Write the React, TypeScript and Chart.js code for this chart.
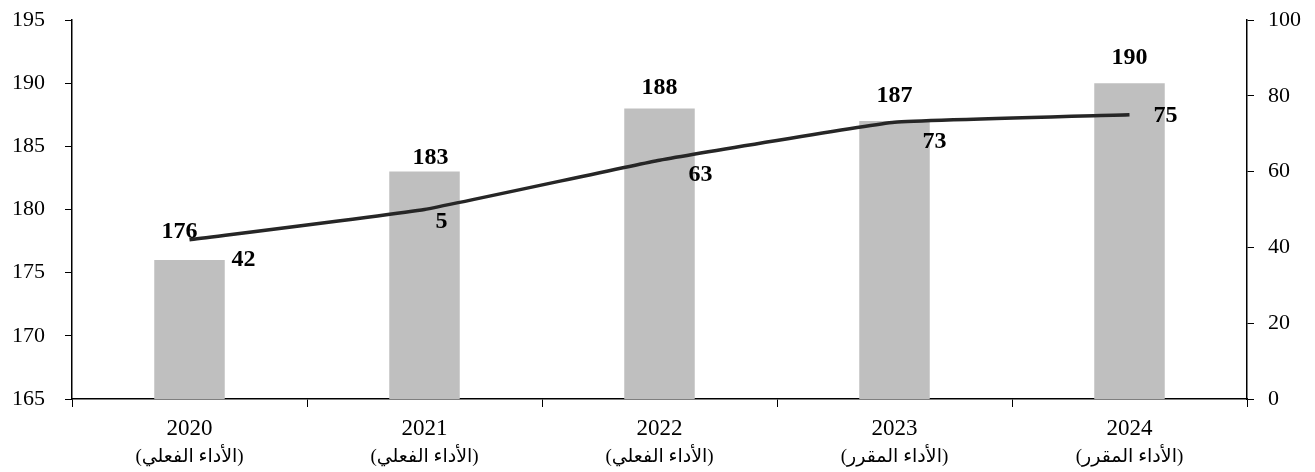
import React, { useEffect, useRef } from "react";
import { Chart, registerables } from "chart.js";

Chart.register(...registerables);

const years = ["2020", "2021", "2022", "2023", "2024"];
const subLabels = ["(الأداء الفعلي)", "(الأداء الفعلي)", "(الأداء الفعلي)", "(الأداء المقرر)", "(الأداء المقرر)"];
const barValues = [176, 183, 188, 187, 190];
const lineValues = [42, 50, 63, 73, 75];
const barLabels = ["176", "183", "188", "187", "190"];
const lineLabels = ["42", "5", "63", "73", "75"];

const leftTicks = { min: 165, max: 195, step: 5 };
const rightTicks = { min: 0, max: 100, step: 20 };

// label offsets (pixels) relative to the mark
const barLabelOffsets = [
  [-10, -28],
  [6, -14],
  [0, -21],
  [0, -25],
  [0, -25],
];
const lineLabelOffsets = [
  [54, 20],
  [17, 12],
  [41, 15],
  [40, 19],
  [36, 1],
];

const FONT = "'Liberation Serif', 'Times New Roman', 'DejaVu Serif', serif";
const AR_FONT = "'Liberation Serif', 'DejaVu Sans', serif";

const labelPlugin = {
  id: "valueLabels",
  afterDatasetsDraw(chart: any) {
    const ctx = chart.ctx;
    ctx.save();
    ctx.font = `bold 24px ${FONT}`;
    ctx.fillStyle = "#000";
    ctx.textAlign = "center";
    ctx.textBaseline = "middle";
    const barMeta = chart.getDatasetMeta(0);
    barMeta.data.forEach((el: any, i: number) => {
      const [dx, dy] = barLabelOffsets[i];
      ctx.fillText(barLabels[i], el.x + dx, el.y + dy);
    });
    const lineMeta = chart.getDatasetMeta(1);
    lineMeta.data.forEach((el: any, i: number) => {
      const [dx, dy] = lineLabelOffsets[i];
      ctx.fillText(lineLabels[i], el.x + dx, el.y + dy);
    });
    // second line of category labels (Arabic)
    const xs = chart.scales.x;
    ctx.font = `19px ${AR_FONT}`;
    subLabels.forEach((t, i) => {
      ctx.fillText(t, xs.getPixelForTick(i), xs.top + 58);
    });
    ctx.restore();
  },
};

export default function App() {
  const ref = useRef<HTMLCanvasElement | null>(null);

  useEffect(() => {
    if (!ref.current) return;
    const fitY = (w: number) => (s: any) => {
      s.width = w;
      s.paddingTop = 0;
      s.paddingBottom = 0;
    };
    const chart = new Chart(ref.current, {
      type: "bar",
      data: {
        labels: years,
        datasets: [
          {
            type: "bar",
            data: barValues,
            backgroundColor: "#bfbfbf",
            borderWidth: 0,
            barPercentage: 0.3,
            categoryPercentage: 1,
            yAxisID: "y",
            order: 1,
          },
          {
            type: "line",
            data: lineValues,
            borderColor: "#262626",
            borderWidth: 3.5,
            pointRadius: 0,
            tension: 0.1,
            fill: false,
            yAxisID: "y1",
            order: 0,
          } as any,
        ],
      },
      options: {
        animation: false,
        responsive: false,
        devicePixelRatio: 1,
        layout: { padding: { top: 20, left: 0, right: 0, bottom: 0 } },
        plugins: {
          legend: { display: false },
          tooltip: { enabled: false },
        },
        scales: {
          x: {
            grid: {
              display: true,
              drawOnChartArea: false,
              drawTicks: true,
              tickLength: 8,
              color: "#000",
              offset: true,
            },
            border: { display: true, color: "#000", width: 1.5 },
            ticks: {
              color: "#000",
              font: { family: FONT, size: 23, lineHeight: 1.2 },
              padding: 8,
              maxRotation: 0,
              autoSkip: false,
            },
            afterFit: (s: any) => {
              s.height = 73;
              s.paddingLeft = 0;
              s.paddingRight = 0;
            },
          },
          y: {
            position: "left",
            min: leftTicks.min,
            max: leftTicks.max,
            grid: {
              display: true,
              drawOnChartArea: false,
              drawTicks: true,
              tickLength: 7,
              color: "#000",
            },
            border: { display: true, color: "#000", width: 1.5 },
            ticks: {
              stepSize: leftTicks.step,
              color: "#000",
              font: { family: FONT, size: 22 },
              padding: 20,
            },
            afterFit: fitY(72),
          },
          y1: {
            position: "right",
            min: rightTicks.min,
            max: rightTicks.max,
            grid: {
              display: true,
              drawOnChartArea: false,
              drawTicks: true,
              tickLength: 7,
              color: "#000",
            },
            border: { display: true, color: "#000", width: 1.5 },
            ticks: {
              stepSize: rightTicks.step,
              color: "#000",
              font: { family: FONT, size: 22 },
              padding: 14,
            },
            afterFit: fitY(68),
          },
        },
      },
      plugins: [labelPlugin],
    });
    return () => chart.destroy();
  }, []);

  return (
    <div style={{ position: "absolute", left: 0, top: 0, width: 1315, height: 472, background: "#fff" }}>
      <canvas ref={ref} width={1315} height={472} style={{ width: 1315, height: 472 }} />
    </div>
  );
}
